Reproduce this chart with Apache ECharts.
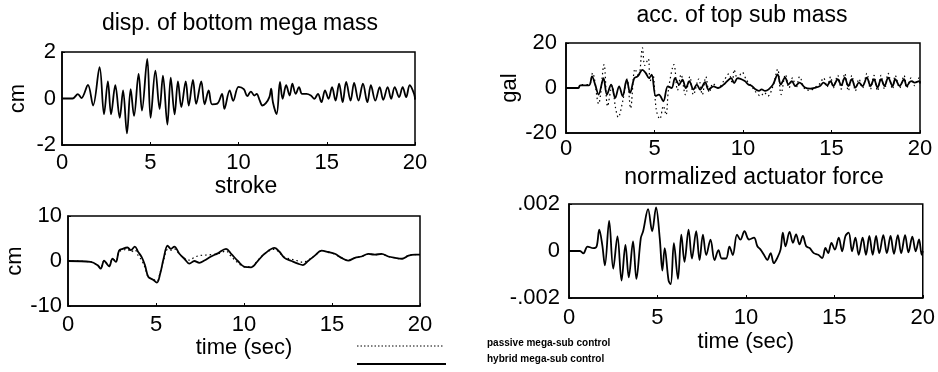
<!DOCTYPE html>
<html>
<head>
<meta charset="utf-8">
<script src="https://cdn.jsdelivr.net/npm/echarts@6/dist/echarts.min.js"></script>
<style>
  html, body { margin: 0; padding: 0; background: #fff; }
  #main { width: 938px; height: 372px; }
</style>
</head>
<body>
<div id="main"></div>
<script>
// x ticks shared by all four panels (sec)
var timeTicks = [0, 5, 10, 15, 20]

// disp. of bottom mega mass (cm), hybrid control
var dispHybrid = [
  [0, 0], [0.6, 0], [0.9, 0.19], [1.1, 0.02], [1.47, 0.58], [1.76, -0.3], [2.13, 1.35], [2.38, -0.68],
  [2.6, 0.74], [2.78, -0.68], [3.02, 0.57], [3.27, -0.83], [3.46, 0.35], [3.68, -1.5], [3.89, 0.4],
  [4.08, -0.75], [4.34, 1.06], [4.53, -0.52], [4.83, 1.7], [5.02, -0.83], [5.29, 1.2], [5.53, -0.45],
  [5.72, 0.98], [5.97, -1.12], [6.16, 0.9], [6.38, -0.68], [6.57, 0.74], [6.76, -0.37], [7.01, 0.74],
  [7.18, -0.3], [7.42, 0.8], [7.6, -0.23], [7.89, 0.74], [8.08, -0.25], [8.31, 0.35], [8.5, -0.25],
  [8.8, -0.22], [9.07, 0.2], [9.2, -0.45], [9.5, 0.35], [9.7, -0.1], [10.0, 0.5], [10.3, 0.4],
  [10.5, 0.1], [10.7, 0.3], [10.9, 0.13], [11.03, 0.2], [11.2, -0.08], [11.35, -0.3], [11.55, -0.2],
  [11.75, 0.06], [11.85, 0.42], [11.95, -0.16], [12.16, -0.67], [12.35, 0.71], [12.5, -0.01],
  [12.7, 0.57], [12.9, 0.13], [13.05, 0.64], [13.24, 0.2], [13.43, 0.49], [13.6, 0.2], [13.85, 0.2],
  [14.1, 0.13], [14.3, -0.01], [14.5, 0.2], [14.7, -0.16], [14.9, 0.35], [15.1, -0.01], [15.3, 0.49],
  [15.5, -0.09], [15.7, 0.64], [15.9, -0.16], [16.1, 0.71], [16.35, -0.09], [16.55, 0.67], [16.8, -0.09],
  [17.05, 0.64], [17.3, -0.16], [17.5, 0.57], [17.75, -0.09], [18.0, 0.49], [18.2, -0.06], [18.45, 0.49],
  [18.65, -0.01], [18.85, 0.49], [19.1, 0.06], [19.3, 0.49], [19.5, 0.06], [19.7, 0.57], [19.95, 0.2],
  [20, -0.05]
]

// acc. of top sub mass (gal)
var accHybrid = [
  [0, 0], [0.7, 0], [0.8, 1.2], [1.3, 1.2], [1.47, 5.2], [1.65, 1.5], [1.84, -2.9], [2.12, 4.4],
  [2.31, -2.9], [2.55, 1.5], [2.78, -4.4], [3.0, 0.7], [3.2, -3.6], [3.43, 3.7], [3.62, -2.2], [3.86, 4.4],
  [4.05, 5.2], [4.32, 8.1], [4.5, 6.7], [4.69, 4.4], [4.84, 5.9], [5.07, -3.6], [5.25, -2.9], [5.5, -5.9],
  [5.75, 0.7], [5.97, 0], [6.16, 4.4], [6.39, 1.5], [6.58, 3.7], [6.77, 0], [6.97, 3.0], [7.2, -0.7],
  [7.39, 1.5], [7.58, -0.7], [7.86, 2.6], [8.05, -0.7], [8.33, 0.7], [8.6, 0], [8.9, 1.5], [9.1, 3.0],
  [9.33, 4.4], [9.5, 2.2], [9.7, 4.4], [10.1, 3.1], [10.3, 1.6], [10.5, 0.9], [10.7, -0.6], [10.9, -1.3],
  [11.05, -0.6], [11.25, -1.3], [11.45, -0.6], [11.7, 1.6], [11.96, 6.1], [12.13, 1.6], [12.38, 4.6],
  [12.57, 1.6], [12.76, 3.1], [12.95, 0.9], [13.2, 2.4], [13.5, 0.2], [13.8, -0.3], [14.1, 0.2],
  [14.35, 0.9], [14.55, 2.4], [14.75, 1.2], [14.95, 3.1], [15.1, 0.9], [15.35, 3.9], [15.55, 1.2],
  [15.75, 4.6], [15.95, 0.9], [16.15, 3.9], [16.35, 0.2], [16.55, 2.4], [16.75, 0.9], [17.0, 4.6],
  [17.2, 0.9], [17.4, 3.9], [17.6, 0.2], [17.8, 3.9], [18.0, 0.9], [18.2, 4.6], [18.45, 0.9], [18.6, 3.9],
  [18.85, 0.9], [19.1, 3.9], [19.25, 0.9], [19.5, 3.1], [19.7, 2.4], [19.95, 3.1], [20, 2.0]
]
var accPassive = [
  [0, 0], [0.7, 0], [0.8, 1.5], [1.3, 1.5], [1.5, 6.7], [1.84, -7.0], [2.15, 10.4], [2.35, -8.1],
  [2.6, 1.0], [2.8, -8.9], [2.95, -13.0], [3.2, -6.0], [3.45, 4.0], [3.65, -9.0], [3.9, 8.5], [4.1, 5.0],
  [4.32, 17.9], [4.45, 10.0], [4.65, 13.0], [4.75, 3.0], [4.9, 6.0], [5.1, -9.6], [5.3, -13.8], [5.5, -8.0],
  [5.65, -12.0], [5.8, 0], [6.1, 10.4], [6.3, -1.0], [6.5, 6.0], [6.75, -3.0], [7.0, 5.0], [7.2, -3.0],
  [7.5, 4.0], [7.7, -3.0], [7.9, 5.0], [8.1, -2.0], [8.3, 2.0], [8.6, 0], [8.9, 3.0], [9.2, 6.3],
  [9.4, 2.0], [9.5, 8.1], [9.7, 4.0], [9.95, 7.0], [10.2, 3.5], [10.5, 0.5], [10.8, -2.5], [11.0, -3.6],
  [11.2, -2.0], [11.4, -3.6], [11.7, 1.0], [11.96, 8.4], [12.15, -2.9], [12.4, 6.0], [12.6, 0],
  [12.8, 4.5], [13.0, 0], [13.2, 5.0], [13.5, -0.5], [13.8, -1.0], [14.1, 0.5], [14.35, 2.0], [14.55, 4.5],
  [14.75, 0.5], [14.95, 5.0], [15.1, 0], [15.35, 5.6], [15.55, -0.5], [15.75, 6.5], [15.95, -1.3],
  [16.15, 5.6], [16.35, -1.3], [16.55, 4.0], [16.75, 0], [17.0, 6.5], [17.2, -0.5], [17.4, 5.6],
  [17.6, -1.3], [17.8, 5.6], [18.0, -0.5], [18.2, 6.5], [18.45, -0.5], [18.6, 5.6], [18.85, 0],
  [19.1, 5.6], [19.25, 0], [19.5, 4.5], [19.7, 1.0], [19.95, 4.5], [20, 2.0]
]

// stroke (cm)
var strokeHybrid = [
  [0, 0], [1.29, -0.2], [1.67, -0.9], [1.86, -1.7], [2.05, 0.1], [2.2, -0.6], [2.34, -1.2], [2.53, 0.5],
  [2.72, -0.2], [2.9, 2.3], [3.1, 2.7], [3.38, 3.0], [3.57, 2.4], [3.8, 3.2], [3.99, 2.0], [4.18, 0.9],
  [4.37, -0.9], [4.56, -3.5], [4.81, -4.1], [5.05, -4.8], [5.24, -2.8], [5.43, 0.5], [5.66, 3.4],
  [5.85, 2.7], [6.04, 3.2], [6.33, 1.6], [6.61, 0.5], [6.9, -0.6], [7.18, 0], [7.46, -0.4], [7.75, 0.1],
  [8.13, 1.0], [8.51, 1.7], [8.98, 2.7], [9.27, 1.6], [9.65, 0], [10.03, -1.3], [10.41, -1.4], [10.8, 0.1],
  [11.17, 1.6], [11.74, 2.9], [12.03, 2.0], [12.3, 0.7], [12.7, 0], [13.07, -0.6], [13.35, -0.9],
  [13.64, 0], [14.02, 1.2], [14.4, 2.3], [14.78, 2.0], [15.16, 1.6], [15.54, 0.7], [15.92, 0.1],
  [16.3, 0.7], [16.68, 1.0], [17.06, 1.6], [17.44, 1.4], [17.82, 1.6], [18.2, 1.0], [18.58, 0.7],
  [18.97, 0.5], [19.35, 1.2], [19.73, 1.4], [20, 1.4]
]
var strokePassive = [
  [0, 0], [1.29, -0.2], [1.67, -0.9], [1.86, -1.5], [2.05, 0.1], [2.2, -0.5], [2.34, -1.0], [2.53, 0.5],
  [2.72, 0], [2.9, 2.0], [3.1, 2.4], [3.38, 2.6], [3.57, 2.0], [3.8, 2.5], [3.99, 1.2], [4.18, 0.2],
  [4.37, -1.4], [4.56, -3.6], [4.81, -4.0], [5.05, -4.5], [5.24, -2.5], [5.43, 0.2], [5.66, 2.6],
  [5.85, 2.4], [6.04, 2.7], [6.33, 1.5], [6.61, 0.6], [6.9, 0.2], [7.18, 0.8], [7.46, 1.2], [7.75, 1.3],
  [8.13, 1.4], [8.51, 1.6], [8.98, 2.2], [9.27, 1.0], [9.65, -0.4], [10.03, -1.3], [10.41, -1.3],
  [10.8, 0.2], [11.17, 1.6], [11.74, 2.6], [12.03, 1.8], [12.3, 0.8], [12.7, 0.4], [13.07, 0.0],
  [13.35, -0.3], [13.64, 0.2], [14.02, 1.2], [14.4, 2.2], [14.78, 2.0], [15.16, 1.5], [15.54, 0.7],
  [15.92, 0.2], [16.3, 0.7], [16.68, 1.0], [17.06, 1.5], [17.44, 1.4], [17.82, 1.5], [18.2, 1.0],
  [18.58, 0.7], [18.97, 0.5], [19.35, 1.2], [19.73, 1.4], [20, 1.4]
]

// normalized actuator force
var forceHybrid = [
  [0, 0], [0.62, 0], [0.81, -0.0001], [1.05, 0.00019], [1.37, 0.00012], [1.56, 0.00019], [1.71, 0.00091],
  [1.88, 0.00026], [2.03, -0.00061], [2.27, 0.00128], [2.5, -0.00075], [2.74, 0.00062], [2.97, -0.00126],
  [3.19, 0.00026], [3.38, -0.00112], [3.62, 0.00041], [3.81, -0.00119], [4.06, 0.00055], [4.19, 0.00084],
  [4.47, 0.00178], [4.7, 0.00084], [4.92, 0.00186], [5.13, 0.00055], [5.28, -0.00083], [5.41, 0.00012],
  [5.63, -0.00126], [5.75, -0.00141], [5.93, 0.00033], [6.16, -0.00119], [6.35, 0.0007], [6.53, -0.00046],
  [6.76, 0.00091], [6.95, -0.00032], [7.19, 0.00084], [7.38, -0.00039], [7.57, 0.0007], [7.76, -0.00017],
  [8.0, 0.00048], [8.23, -0.00039], [8.45, 0.00004], [8.64, -0.00032], [8.88, -0.00032], [9.07, 0.00019],
  [9.26, -0.00017], [9.5, 0.0007], [9.69, 0.00048], [9.92, 0.00084], [10.18, 0.00049], [10.46, 0.00057],
  [10.65, 0.0002], [10.83, 0.00006], [11.02, -0.00016], [11.21, -0.00038], [11.4, -0.00009],
  [11.58, -0.00052], [11.77, -0.0003], [11.96, 0.00006], [12.09, 0.00078], [12.24, 0.0002],
  [12.47, 0.00081], [12.66, 0.00035], [12.84, 0.00071], [13.03, 0.00028], [13.22, 0.00064],
  [13.41, 0.0002], [13.6, 0.00013], [13.84, -0.00009], [14.09, -0.00016], [14.31, -0.0003],
  [14.5, 0.00013], [14.65, -0.00009], [14.84, 0.00035], [15.03, 0.00006], [15.25, 0.00057],
  [15.44, -0.00001], [15.63, 0.00064], [15.81, 0.00078], [16.0, -0.00001], [16.19, 0.00057],
  [16.38, -0.00016], [16.6, 0.00057], [16.79, -0.00016], [16.98, 0.00064], [17.17, -0.00016],
  [17.36, 0.00064], [17.54, -0.00009], [17.77, 0.00067], [17.97, -0.00009], [18.18, 0.00064],
  [18.37, -0.00012], [18.59, 0.00067], [18.78, -0.00009], [19.0, 0.00067], [19.19, -0.00006],
  [19.41, 0.00061], [19.6, -0.00001], [19.79, 0.00049], [19.94, -0.00016], [20, 0]
]

var FONT = '"Liberation Sans", Arial, Helvetica, sans-serif'
var FS = 22
var TITLE_FS = 23

// grid boxes (px) for the four panels
var panels = [
  { left: 62, top: 52, width: 353, height: 93 },
  { left: 566, top: 43, width: 354, height: 90 },
  { left: 68, top: 216, width: 352, height: 90 },
  { left: 569, top: 204, width: 355, height: 94 }
]

function xAxisFor (idx, name, margin, gap) {
  return {
    type: 'value',
    gridIndex: idx,
    min: timeTicks[0],
    max: timeTicks[timeTicks.length - 1],
    interval: 5,
    name: name,
    nameLocation: 'middle',
    nameGap: gap,
    nameTextStyle: { fontFamily: FONT, fontSize: FS, color: '#000' },
    axisLine: { show: true, onZero: false, lineStyle: { color: '#000', width: 1.5 } },
    axisTick: { show: true, inside: true, length: 3, lineStyle: { color: '#000' } },
    axisLabel: { fontFamily: FONT, fontSize: FS, color: '#000', margin: margin },
    splitLine: { show: false }
  }
}

function yAxisFor (idx, min, max, step, name, gap, margin, fmt) {
  return {
    type: 'value',
    gridIndex: idx,
    min: min,
    max: max,
    interval: step,
    name: name,
    nameLocation: 'middle',
    nameGap: gap,
    nameTextStyle: { fontFamily: FONT, fontSize: FS, color: '#000' },
    axisLine: { show: true, lineStyle: { color: '#000', width: 1.5 } },
    axisTick: { show: true, inside: true, length: 3, lineStyle: { color: '#000' } },
    axisLabel: { fontFamily: FONT, fontSize: FS, color: '#000', margin: margin, formatter: fmt },
    splitLine: { show: false }
  }
}

function solid (idx, data) {
  return {
    type: 'line', xAxisIndex: idx, yAxisIndex: idx, data: data,
    symbol: 'none', z: 3, smooth: 0.35,
    lineStyle: { color: '#000', width: 1.8 }
  }
}

function dotted (idx, data) {
  return {
    type: 'line', xAxisIndex: idx, yAxisIndex: idx, data: data,
    symbol: 'none', z: 2, smooth: 0.35,
    lineStyle: { color: '#000', width: 1.2, type: [1.5, 3] }
  }
}

var forceFmt = function (v) {
  if (v === 0) return '0'
  return (v < 0 ? '-' : '') + String(Math.abs(+v.toFixed(4))).replace(/^0/, '')
}

var myChart = echarts.init(document.getElementById('main'), null, { renderer: 'canvas' })
myChart.setOption({
  animation: false,
  backgroundColor: '#fff',
  title: [
    { text: 'disp. of bottom mega mass', left: 240, top: 12, textAlign: 'center' },
    { text: 'acc. of top sub mass', left: 742, top: 4, textAlign: 'center' },
    { text: 'stroke', left: 246, top: 175, textAlign: 'center' },
    { text: 'normalized actuator force', left: 754, top: 166, textAlign: 'center' }
  ].map(function (t) {
    t.textStyle = { fontFamily: FONT, fontSize: TITLE_FS, fontWeight: 'normal', color: '#000' }
    t.padding = 0
    return t
  }),
  grid: panels.map(function (p) {
    return {
      left: p.left, top: p.top, width: p.width, height: p.height,
      show: true, borderColor: '#000', borderWidth: 1.5, containLabel: false
    }
  }),
  xAxis: [
    xAxisFor(0, '', 7, 30),
    xAxisFor(1, '', 5, 30),
    xAxisFor(2, 'time (sec)', 8, 31),
    xAxisFor(3, 'time (sec)', 9, 33)
  ],
  yAxis: [
    yAxisFor(0, -2, 2, 2, 'cm', 33, 6),
    yAxisFor(1, -20, 20, 20, 'gal', 44, 9),
    yAxisFor(2, -10, 10, 10, 'cm', 39, 6),
    yAxisFor(3, -0.002, 0.002, 0.002, '', 30, 9, forceFmt)
  ],
  series: [
    solid(0, dispHybrid),
    dotted(1, accPassive),
    solid(1, accHybrid),
    dotted(2, strokePassive),
    solid(2, strokeHybrid),
    solid(3, forceHybrid)
  ],
  graphic: [
    { type: 'line', shape: { x1: 357, y1: 346, x2: 444, y2: 346 },
      style: { stroke: '#000', lineWidth: 1, lineDash: [1.5, 2] } },
    { type: 'line', shape: { x1: 357, y1: 364, x2: 446, y2: 364 },
      style: { stroke: '#000', lineWidth: 1.8 } },
    { type: 'text', left: 487, top: 338,
      style: { text: 'passive mega-sub control', fontFamily: FONT, fontSize: 10, fontWeight: 'bold', fill: '#000' } },
    { type: 'text', left: 487, top: 354,
      style: { text: 'hybrid mega-sub control', fontFamily: FONT, fontSize: 10, fontWeight: 'bold', fill: '#000' } }
  ]
})
</script>
</body>
</html>
